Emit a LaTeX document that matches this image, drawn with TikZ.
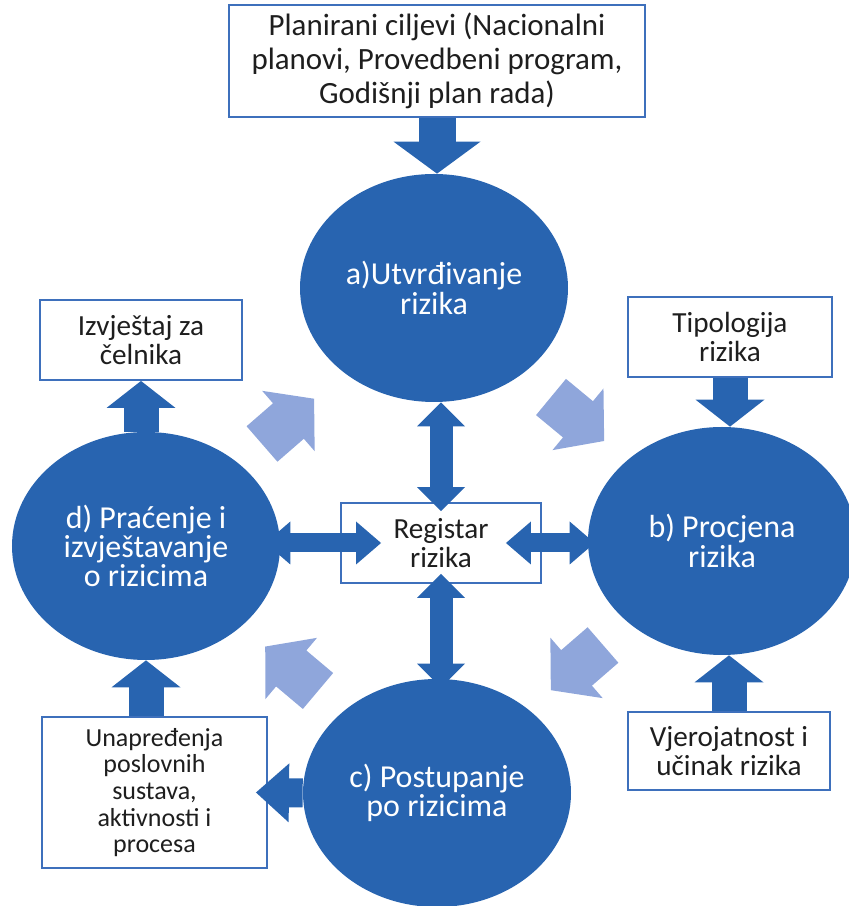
\documentclass[tikz,border=0pt]{standalone}
\usepackage{fontspec}
\setmainfont{Carlito}
\usepackage{xcolor}
\usepackage{tikz}
\usetikzlibrary{shapes.geometric,arrows.meta}
\definecolor{krug}{RGB}{40,100,176}
\definecolor{svijetla}{RGB}{143,166,219}
\definecolor{rub}{RGB}{62,112,188}
\definecolor{tekst}{RGB}{30,30,30}
\setlength{\lineskiplimit}{-10pt}

\begin{document}
\begin{tikzpicture}[
	krugn/.style={ellipse, fill=krug, minimum width=5.36cm, minimum height=4.56cm, inner sep=0pt, align=center, text=white, font=\fontsize{18.2}{16.6}\selectfont},
	okvir/.style={draw=rub, line width=1.1pt, fill=white, inner sep=0pt, align=center, text=tekst, font=\fontsize{16.6}{16.4}\selectfont},
	veliki/.style={draw=krug, line width=0.74cm, -{Triangle[width=1.74cm,length=0.64cm,line width=0pt]}},
	mali/.style={draw=krug, line width=0.70cm, -{Triangle[width=1.38cm,length=0.54cm,line width=0pt]}},
	bocni/.style={draw=krug, line width=0.58cm, -{Triangle[width=1.18cm,length=0.66cm,line width=0pt]}},
	dvojniv/.style={draw=krug, line width=0.46cm, {Triangle[width=0.96cm,length=0.48cm,line width=0pt]}-{Triangle[width=0.96cm,length=0.48cm,line width=0pt]}},
	dvojnih/.style={draw=krug, line width=0.38cm, {Triangle[width=0.86cm,length=0.50cm,line width=0pt]}-{Triangle[width=0.86cm,length=0.50cm,line width=0pt]}},
	kruzna/.pic={\fill[svijetla] (0,-0.47) -- (0.70,-0.47) -- (0.70,-0.80) -- (1.38,0) -- (0.70,0.80) -- (0.70,0.47) -- (0,0.47) -- cycle;}
]
	\useasboundingbox (0,0) rectangle (16.96,18.12);

	\path (8.68,12.36) node[krugn] (utvr) {a)Utvrđivanje\\rizika};
	\path (14.44,7.30) node[krugn] (procj) {b) Procjena\\rizika};
	\path (8.74,2.26) node[krugn] (postup) {c) Postupanje\\po rizicima};
	\path (2.92,7.20) node[krugn] (pracenje) {d) Praćenje i\\izvještavanje\\o rizicima};

	\path (8.74,16.90) node[okvir, minimum width=8.32cm, minimum height=2.24cm, font=\fontsize{17.6}{19.3}\selectfont] (ciljevi) {Planirani ciljevi (Nacionalni\\planovi, Provedbeni program,\\Godišnji plan rada)};
	\path (8.82,7.26) node[okvir, minimum width=4cm, minimum height=1.6cm] (registar) {Registar\\rizika};
	\path (2.82,11.32) node[okvir, minimum width=4.04cm, minimum height=1.6cm] (izvjestaj) {Izvještaj za\\čelnika};
	\path (14.60,11.38) node[okvir, minimum width=4.08cm, minimum height=1.6cm] (tipologija) {Tipologija\\rizika};
	\path (14.58,3.10) node[okvir, minimum width=4.04cm, minimum height=1.56cm] (vjerojatnost) {Vjerojatnost i\\učinak rizika};
	\path (3.09,2.27) node[okvir, minimum width=4.5cm, minimum height=3.02cm, font=\fontsize{14.8}{15.2}\selectfont] (unaprjedenja) {Unapređenja\\poslovnih\\sustava,\\aktivnosti i\\procesa};

	\draw[veliki] (ciljevi.south) -- (ciljevi.south |- utvr.north);
	\draw[mali] (izvjestaj.south |- pracenje.north) -- (izvjestaj.south);
	\draw[mali] (tipologija.south) -- (tipologija.south |- procj.north);
	\draw[mali] (vjerojatnost.north) -- (vjerojatnost.north |- procj.south);
	\draw[mali] (pracenje.south |- unaprjedenja.north) -- (pracenje.south);
	\draw[bocni] (postup.west) -- ([xshift=-0.24cm]unaprjedenja.east);

	\draw[dvojniv] (registar.north |- utvr.south) -- ([yshift=-0.18cm]registar.north);
	\draw[dvojniv] ([yshift=0.2cm]registar.south) -- ([yshift=-0.18cm]registar.south |- postup.north);
	\draw[dvojnih] ([xshift=-0.3cm]pracenje.east |- registar.west) -- ([xshift=0.82cm]registar.west);
	\draw[dvojnih] ([xshift=-0.72cm]registar.east) -- ([xshift=0.14cm]procj.west |- registar.east);

	\pic[rotate=41] at (5.24,9.24) {kruzna};
	\pic[rotate=-39.6] at (11.02,10.18) {kruzna};
	\pic[rotate=220.9] at (12.06,5.22) {kruzna};
	\pic[rotate=139.9] at (6.36,4.30) {kruzna};
\end{tikzpicture}
\end{document}
